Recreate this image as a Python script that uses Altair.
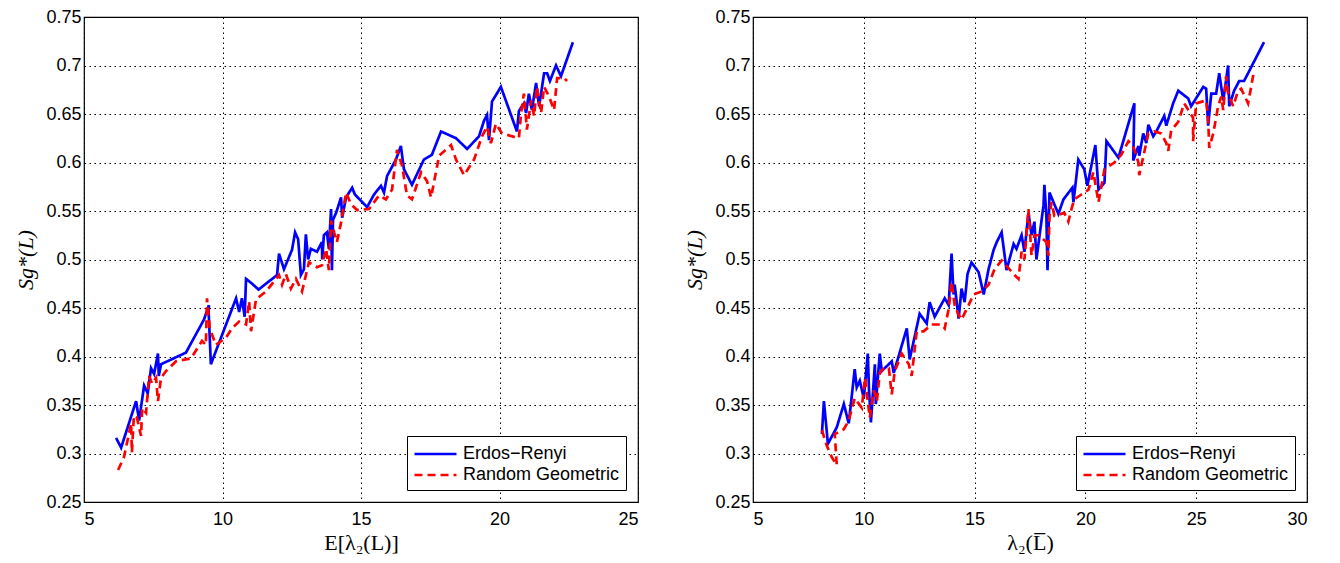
import altair as alt
import pandas as pd

ER = "Erdos\u2212Renyi"
RG = "Random Geometric"
series_names = [ER, RG]

# ---- Left panel: x = E[lambda2(L)] ----
left_er_x = [6.16, 6.34, 6.88, 6.99, 7.17, 7.30, 7.42, 7.53, 7.67, 7.70, 7.78, 8.68, 9.33, 9.51, 9.50, 9.58,
             10.49, 10.60, 10.70, 10.80, 10.85, 11.07, 11.30, 11.97, 12.04, 12.22, 12.51, 12.62, 12.73, 12.83,
             12.94, 13.01, 13.09, 13.19, 13.41, 13.59, 13.60, 13.66, 13.77, 13.84, 13.92, 13.95, 13.99, 14.10,
             14.28, 14.32, 14.46, 14.57, 14.68, 14.78, 15.22, 15.47, 15.72, 15.83, 15.94, 16.26, 16.44, 16.55,
             16.84, 17.27, 17.56, 17.89, 18.43, 18.83, 19.26, 19.44, 19.55, 19.62, 19.73, 19.84, 20.05, 20.63,
             20.70, 20.88, 20.96, 21.06, 21.17, 21.32, 21.43, 21.61, 21.72, 21.82, 22.04, 22.22, 22.65]
left_er_y = [0.316, 0.306, 0.354, 0.334, 0.370, 0.362, 0.388, 0.382, 0.403, 0.380, 0.392, 0.404, 0.438, 0.453, 0.446, 0.392,
             0.460, 0.446, 0.460, 0.441, 0.480, 0.475, 0.469, 0.484, 0.506, 0.490, 0.510, 0.528, 0.521, 0.484,
             0.490, 0.526, 0.500, 0.511, 0.508, 0.518, 0.500, 0.525, 0.528, 0.511, 0.552, 0.489, 0.541, 0.548,
             0.564, 0.543, 0.564, 0.569, 0.574, 0.567, 0.554, 0.567, 0.576, 0.569, 0.586, 0.603, 0.617, 0.593,
             0.577, 0.603, 0.608, 0.632, 0.625, 0.614, 0.627, 0.643, 0.649, 0.623, 0.663, 0.668, 0.678, 0.632,
             0.653, 0.661, 0.651, 0.671, 0.654, 0.682, 0.658, 0.692, 0.692, 0.684, 0.700, 0.689, 0.724]

left_rg_x = [6.23, 6.44, 6.62, 6.70, 6.73, 6.80, 6.91, 7.06, 7.10, 7.24, 7.35, 7.46, 7.60, 7.67, 7.78, 7.96,
             8.32, 8.86, 9.26, 9.40, 9.44, 9.54, 9.76, 10.12, 10.34, 10.60, 10.85, 10.96, 11.03, 11.21, 11.57,
             11.93, 12.04, 12.15, 12.29, 12.47, 12.65, 12.87, 13.12, 13.41, 13.59, 13.74, 13.84, 13.92, 14.03,
             14.13, 14.28, 14.46, 14.64, 14.86, 15.29, 15.65, 15.90, 16.12, 16.30, 16.48, 16.66, 16.84, 17.17,
             17.38, 17.53, 17.82, 18.25, 18.43, 18.72, 19.08, 19.37, 19.55, 19.69, 19.87, 20.09, 20.70, 20.78,
             20.88, 20.99, 21.14, 21.25, 21.35, 21.50, 21.61, 21.79, 21.97, 22.08, 22.33, 22.44]
left_rg_y = [0.283, 0.296, 0.320, 0.331, 0.301, 0.339, 0.337, 0.318, 0.347, 0.342, 0.380, 0.372, 0.378, 0.354, 0.378, 0.385,
             0.395, 0.398, 0.416, 0.412, 0.460, 0.429, 0.412, 0.419, 0.429, 0.436, 0.433, 0.457, 0.426, 0.459, 0.467,
             0.480, 0.484, 0.474, 0.485, 0.470, 0.480, 0.467, 0.497, 0.492, 0.494, 0.511, 0.489, 0.540, 0.528,
             0.518, 0.538, 0.569, 0.557, 0.551, 0.552, 0.566, 0.562, 0.572, 0.613, 0.597, 0.566, 0.562, 0.590,
             0.581, 0.564, 0.607, 0.618, 0.603, 0.587, 0.603, 0.627, 0.637, 0.620, 0.640, 0.630, 0.625, 0.651,
             0.671, 0.634, 0.664, 0.648, 0.678, 0.651, 0.678, 0.668, 0.654, 0.687, 0.687, 0.684]

# ---- Right panel: x = lambda2(L bar) ----
right_er_x = [8.11, 8.20, 8.38, 8.78, 9.10, 9.32, 9.59, 9.68, 9.82, 10.00, 10.18, 10.23, 10.32, 10.50, 10.54, 10.72,
              10.81, 11.26, 11.35, 11.94, 12.07, 12.52, 12.84, 12.97, 13.20, 13.65, 13.83, 13.96, 14.05, 14.10,
              14.28, 14.41, 14.55, 14.68, 14.86, 15.18, 15.41, 15.63, 15.86, 16.00, 16.22, 16.44, 16.76, 16.89,
              17.12, 17.25, 17.43, 17.57, 17.70, 17.79, 18.11, 18.15, 18.24, 18.29, 18.38, 18.56, 18.78, 19.01,
              19.41, 19.46, 19.68, 19.95, 20.09, 20.45, 20.59, 20.86, 20.95, 21.49, 22.21, 22.16, 22.39, 22.43,
              22.61, 22.75, 22.84, 23.06, 23.20, 23.56, 23.65, 23.96, 24.19, 24.64, 24.77, 25.32, 25.45, 25.54,
              25.68, 25.90, 26.04, 26.22, 26.44, 26.49, 26.71, 26.94, 27.16, 27.34, 28.06]
right_er_y = [0.320, 0.354, 0.310, 0.327, 0.351, 0.331, 0.387, 0.368, 0.375, 0.357, 0.403, 0.368, 0.332, 0.392, 0.351, 0.403,
              0.385, 0.395, 0.383, 0.429, 0.397, 0.444, 0.434, 0.456, 0.441, 0.460, 0.453, 0.506, 0.464, 0.474,
              0.439, 0.470, 0.456, 0.485, 0.497, 0.487, 0.464, 0.490, 0.510, 0.518, 0.528, 0.489, 0.516, 0.511,
              0.525, 0.508, 0.548, 0.525, 0.539, 0.500, 0.556, 0.577, 0.544, 0.489, 0.569, 0.559, 0.547, 0.562,
              0.574, 0.559, 0.603, 0.593, 0.576, 0.618, 0.572, 0.579, 0.622, 0.605, 0.661, 0.602, 0.617, 0.607,
              0.630, 0.620, 0.639, 0.627, 0.632, 0.648, 0.638, 0.661, 0.674, 0.666, 0.658, 0.678, 0.676, 0.638,
              0.671, 0.671, 0.692, 0.664, 0.700, 0.658, 0.674, 0.684, 0.684, 0.692, 0.724]

right_rg_x = [8.11, 8.33, 8.56, 8.78, 8.69, 9.10, 9.32, 9.59, 9.91, 10.05, 10.27, 10.45, 10.59, 10.72, 10.90, 11.13,
              11.26, 11.40, 11.71, 12.03, 12.16, 12.39, 12.70, 13.06, 13.51, 13.65, 13.83, 13.96, 14.10, 14.28,
              14.41, 14.73, 14.95, 15.32, 15.63, 15.90, 16.22, 16.80, 16.98, 17.12, 17.25, 17.43, 17.57, 17.70,
              17.88, 18.24, 18.33, 18.38, 18.47, 18.60, 19.05, 19.23, 19.37, 19.50, 19.82, 20.14, 20.36, 20.59,
              20.86, 21.31, 21.62, 21.94, 22.16, 22.39, 22.43, 22.84, 23.11, 23.42, 23.65, 23.74, 23.87, 24.19,
              24.46, 24.86, 24.86, 25.00, 25.45, 25.54, 25.59, 25.77, 25.99, 26.13, 26.22, 26.35, 26.44, 26.67,
              26.89, 27.03, 27.34, 27.48, 27.61]
right_rg_y = [0.324, 0.308, 0.296, 0.288, 0.320, 0.325, 0.334, 0.357, 0.347, 0.378, 0.337, 0.365, 0.354, 0.383, 0.388, 0.388,
              0.361, 0.385, 0.403, 0.392, 0.380, 0.426, 0.426, 0.433, 0.433, 0.429, 0.449, 0.477, 0.453, 0.443,
              0.438, 0.453, 0.464, 0.467, 0.474, 0.490, 0.499, 0.484, 0.480, 0.508, 0.500, 0.552, 0.504, 0.525,
              0.525, 0.518, 0.504, 0.545, 0.559, 0.545, 0.548, 0.539, 0.552, 0.562, 0.567, 0.572, 0.590, 0.559,
              0.593, 0.600, 0.608, 0.622, 0.617, 0.600, 0.587, 0.630, 0.632, 0.630, 0.620, 0.612, 0.633, 0.642,
              0.661, 0.646, 0.622, 0.661, 0.664, 0.644, 0.615, 0.630, 0.658, 0.668, 0.654, 0.689, 0.671, 0.658,
              0.674, 0.676, 0.661, 0.678, 0.695]

y_ticks = [0.25, 0.3, 0.35, 0.4, 0.45, 0.5, 0.55, 0.6, 0.65, 0.7, 0.75]
left_x_ticks = [5, 10, 15, 20, 25]
right_x_ticks = [5, 10, 15, 20, 25, 30]


def build_df(er_x, er_y, rg_x, rg_y):
    rows = []
    for i, (a, b) in enumerate(zip(er_x, er_y)):
        rows.append({"x": a, "y": b, "series": ER, "i": i})
    for i, (a, b) in enumerate(zip(rg_x, rg_y)):
        rows.append({"x": a, "y": b, "series": RG, "i": i})
    return pd.DataFrame(rows)


legend = alt.Legend(
    title=None, orient="bottom-right", offset=12, symbolType="M-2,0H2", symbolSize=441,
    symbolStrokeWidth=2.5, symbolOffset=10.5, labelOffset=15.5,
    labelFont="Liberation Sans", labelFontSize=18, labelColor="black",
    fillColor="white", strokeColor="black", padding=6, rowPadding=0,
    labelLimit=400,
)


def panel(df, xdom, xticks, xtitle):
    return alt.Chart(df).mark_line(strokeWidth=2.7, clip=True).encode(
        x=alt.X("x:Q", scale=alt.Scale(domain=xdom, nice=False, zero=False),
                axis=alt.Axis(values=xticks, title=xtitle, format="d")),
        y=alt.Y("y:Q", scale=alt.Scale(domain=[0.25, 0.75], nice=False, zero=False),
                axis=alt.Axis(values=y_ticks, format=".2~f", title="Sg*(L)",
                              titleFontStyle="italic")),
        color=alt.Color("series:N", scale=alt.Scale(domain=series_names, range=["#0000ff", "#ff0000"]),
                        legend=legend),
        strokeDash=alt.StrokeDash("series:N", scale=alt.Scale(domain=series_names, range=[[1, 0], [8, 5]]),
                                  legend=legend),
        order=alt.Order("i:Q"),
    ).properties(width=554, height=485)


left = panel(build_df(left_er_x, left_er_y, left_rg_x, left_rg_y), [5, 25], left_x_ticks,
             "E[\u03bb\u2082(L)]")
right = panel(build_df(right_er_x, right_er_y, right_rg_x, right_rg_y), [5, 30], right_x_ticks,
              "\u03bb\u2082(L\u0305)")

chart = alt.hconcat(left, right, spacing=44).resolve_scale(
    color="independent", strokeDash="independent"
).resolve_legend(color="independent", strokeDash="independent").configure(
    padding={"left": 6, "top": -1, "right": 5, "bottom": 0}
).configure_view(
    stroke="black", strokeWidth=1.2
).configure_axis(
    labelFont="Liberation Sans", labelFontSize=18, labelColor="black",
    titleFont="Liberation Serif", titleFontSize=22, titleFontWeight="normal", titleColor="black",
    domain=False, ticks=False, grid=True, gridColor="black", gridDash=[1.5, 3.5], gridOpacity=1,
    gridWidth=1,
).configure_axisY(
    labelPadding=3, titlePadding=8
).configure_axisX(
    labelPadding=8, titlePadding=4
)

chart.save("out.html", embed_options={"renderer": "svg", "actions": False})
